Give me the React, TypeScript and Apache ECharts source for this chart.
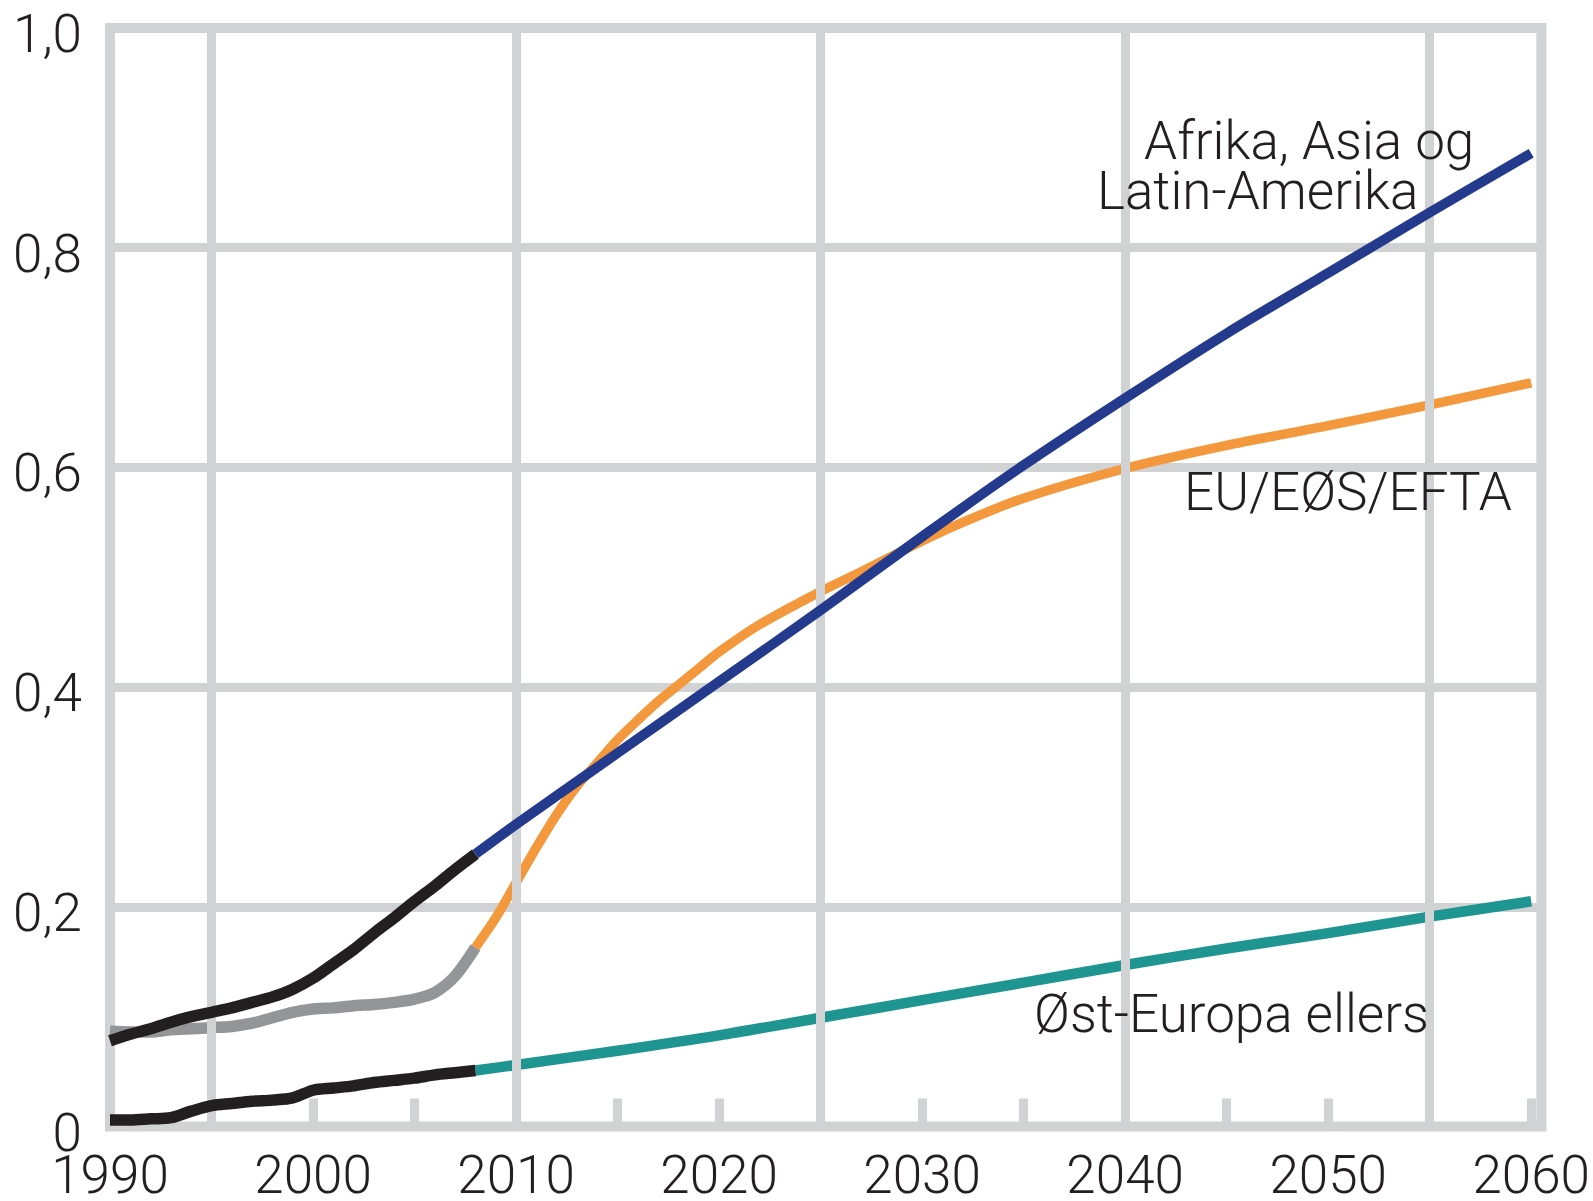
import React, { useEffect, useRef } from "react";
import * as echarts from "echarts";

// ---- data (share of population) ----
const historyYears = [1990, 1991, 1992, 1993, 1994, 1995, 1996, 1997, 1998, 1999, 2000, 2001, 2002, 2003, 2004, 2005, 2006, 2007, 2008];
const asiaHistory = [0.078, 0.084, 0.089, 0.095, 0.1, 0.104, 0.108, 0.113, 0.118, 0.125, 0.135, 0.148, 0.161, 0.176, 0.19, 0.205, 0.219, 0.234, 0.248];
const euHistory = [0.087, 0.086, 0.086, 0.088, 0.089, 0.09, 0.091, 0.094, 0.099, 0.104, 0.107, 0.108, 0.11, 0.111, 0.113, 0.116, 0.122, 0.137, 0.163];
const eastHistory = [0.006, 0.006, 0.007, 0.008, 0.014, 0.019, 0.021, 0.023, 0.024, 0.026, 0.033, 0.035, 0.037, 0.04, 0.042, 0.044, 0.047, 0.049, 0.051];

const asiaYears = [2008, 2010, 2015, 2020, 2025, 2030, 2035, 2040, 2045, 2050, 2055, 2060];
const asiaProjection = [0.248, 0.275, 0.34, 0.405, 0.47, 0.537, 0.602, 0.663, 0.722, 0.777, 0.832, 0.886];

const euYears = [2008, 2009, 2010, 2011, 2012, 2013, 2014, 2015, 2016, 2017, 2018, 2019, 2020, 2022, 2025, 2027, 2030, 2032, 2035, 2040, 2045, 2050, 2055, 2060];
const euProjection = [0.163, 0.19, 0.222, 0.254, 0.284, 0.31, 0.331, 0.352, 0.37, 0.387, 0.402, 0.417, 0.432, 0.457, 0.487, 0.505, 0.533, 0.55, 0.572, 0.599, 0.62, 0.638, 0.657, 0.677];

const eastYears = [2008, 2010, 2015, 2020, 2025, 2030, 2035, 2040, 2045, 2050, 2055, 2060];
const eastProjection = [0.051, 0.056, 0.069, 0.083, 0.099, 0.115, 0.131, 0.147, 0.162, 0.176, 0.191, 0.205];

const fullGridYears = [1995, 2010, 2025, 2040, 2055];
const labelAsia1 = "Afrika, Asia og";
const labelAsia2 = "Latin-Amerika";
const labelEu = "EU/EØS/EFTA";
const labelEast = "Øst-Europa ellers";

// ---- styles ----
const GRID = "#d1d2d4";
const TEXT = "#231f20";
const FONT = "Roboto, 'Liberation Sans', sans-serif";
const FS = 53;

const pairs = (xs: number[], ys: number[]) => xs.map((x, i) => [x, ys[i]]);

export default function App() {
  const ref = useRef<HTMLDivElement>(null);

  useEffect(() => {
    if (!ref.current) return;
    const chart = echarts.init(ref.current, undefined, { renderer: "svg" });

    const lineSeries = (name: string, data: number[][], color: string, width: number, z: number) => ({
      name,
      type: "line",
      data,
      smooth: 0.3,
      showSymbol: false,
      symbol: "none",
      z,
      lineStyle: { color, width, cap: "butt", join: "round" },
      silent: true,
    });

    const textEl = (text: string, x: number, y: number) => ({
      type: "text",
      x,
      y,
      z: 100,
      style: {
        text,
        fill: TEXT,
        fontSize: FS,
        fontWeight: 300,
        fontFamily: FONT,
        lineHeight: 46,
        align: "left",
        verticalAlign: "middle",
      },
    });

    chart.setOption({
      animation: false,
      backgroundColor: "#ffffff",
      grid: {
        left: 110,
        right: 51,
        top: 28,
        bottom: 73,
        show: true,
        borderColor: GRID,
        borderWidth: 10,
        backgroundColor: "transparent",
      },
      xAxis: {
        type: "value",
        min: 1990,
        max: 2060.5,
        interval: 5,
        axisLine: { show: false },
        axisTick: { show: true, inside: true, length: 28, lineStyle: { color: GRID, width: 9 } },
        splitLine: { show: false },
        axisLabel: {
          color: TEXT,
          fontSize: FS,
          fontWeight: 300,
          fontFamily: FONT,
          lineHeight: 40,
          margin: 28,
          formatter: (v: number) => (Math.abs(v % 10) < 1e-6 ? String(v) : ""),
        },
      },
      yAxis: {
        type: "value",
        min: 0,
        max: 1,
        interval: 0.2,
        axisLine: { show: false },
        axisTick: { show: false },
        splitLine: { show: true, lineStyle: { color: GRID, width: 9 } },
        axisLabel: {
          color: TEXT,
          fontSize: FS,
          fontWeight: 300,
          fontFamily: FONT,
          margin: 28,
          verticalAlign: "top",
          lineHeight: 12,
          formatter: (v: number) => (v === 0 ? "0" : v.toFixed(1).replace(".", ",")),
        },
      },
      series: [
        {
          type: "line",
          data: [],
          z: 1,
          silent: true,
          markLine: {
            silent: true,
            symbol: ["none", "none"],
            label: { show: false },
            lineStyle: { color: GRID, width: 9, type: "solid" },
            data: fullGridYears.map((y) => ({ xAxis: y })),
          },
        },
        lineSeries("EU/EØS/EFTA historisk", pairs(historyYears, euHistory), "#939598", 11.5, 3),
        lineSeries("EU/EØS/EFTA", pairs(euYears, euProjection), "#f3983c", 9.5, 4),
        lineSeries("Øst-Europa ellers", pairs(eastYears, eastProjection), "#1f9591", 10.5, 4),
        lineSeries("Afrika, Asia og Latin-Amerika", pairs(asiaYears, asiaProjection), "#243a8c", 10, 5),
        lineSeries("Øst-Europa ellers historisk", pairs(historyYears, eastHistory), "#231f20", 11.5, 6),
        lineSeries("Afrika, Asia og Latin-Amerika historisk", pairs(historyYears, asiaHistory), "#231f20", 11.5, 6),
      ],
      graphic: [
        textEl(labelAsia1, 1144, 141),
        textEl(labelAsia2, 1097, 191),
        textEl(labelEu, 1184, 492),
        textEl(labelEast, 1034, 1014),
      ],
    });

    return () => chart.dispose();
  }, []);

  return (
    <div
      style={{
        position: "absolute",
        left: 0,
        top: 0,
        width: 1593,
        height: 1201,
        background: "#ffffff",
      }}
    >
      <div ref={ref} style={{ width: 1593, height: 1201 }} />
    </div>
  );
}
